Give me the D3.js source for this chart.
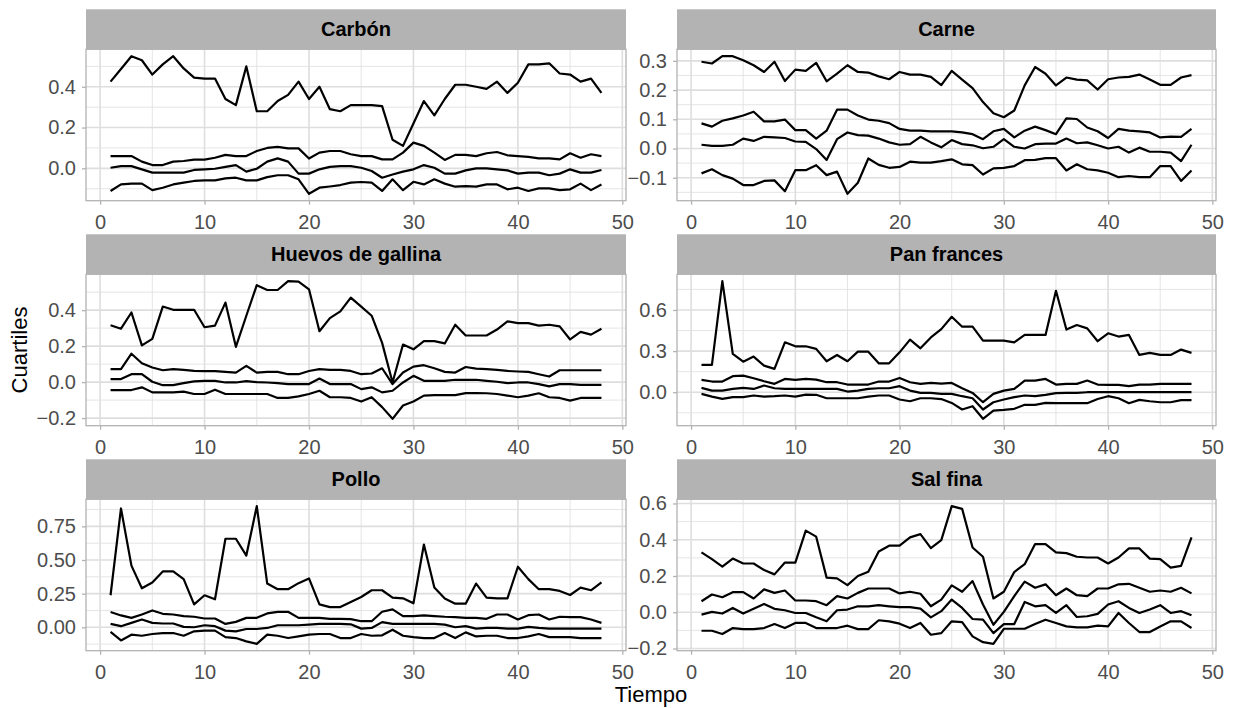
<!DOCTYPE html>
<html>
<head>
<meta charset="utf-8">
<script src="https://cdn.jsdelivr.net/npm/d3@7"></script>
<style>
  body { margin: 0; background: #fff; }
  text { font-family: "Liberation Sans", Arial, sans-serif; }
</style>
</head>
<body>
<div id="chart"></div>
<script>
// Tiempo (x) values
const tiempo = [1,2,3,4,5,6,7,8,9,10,11,12,13,14,15,16,17,18,19,20,21,22,23,24,
                25,26,27,28,29,30,31,32,33,34,35,36,37,38,39,40,41,42,43,44,45,46,47,48];

const productos = ["Carbón", "Carne", "Huevos de gallina", "Pan frances", "Pollo", "Sal fina"];

// Carbón
const carbonQ1 = [-0.111,-0.079,-0.075,-0.075,-0.107,-0.095,-0.079,-0.07,-0.062,-0.059,-0.059,-0.049,-0.046,-0.059,-0.059,-0.043,-0.034,-0.034,-0.054,-0.125,-0.095,-0.089,-0.082,-0.07,
                  -0.067,-0.07,-0.111,-0.054,-0.107,-0.066,-0.079,-0.054,-0.075,-0.09,-0.087,-0.09,-0.079,-0.079,-0.103,-0.095,-0.111,-0.098,-0.098,-0.107,-0.103,-0.075,-0.107,-0.079];
const carbonQ2 = [0.003,0.011,0.011,-0.005,-0.021,-0.021,-0.021,-0.021,-0.008,-0.005,-0.002,0.007,0.016,-0.016,-0.002,0.033,0.049,0.033,-0.026,-0.026,-0.005,0.007,0.011,0.011,
                  0.003,-0.013,-0.046,-0.03,-0.016,-0.005,0.016,0.003,-0.026,-0.026,-0.01,0,0,-0.005,-0.01,-0.026,-0.021,-0.021,-0.034,-0.026,-0.005,-0.021,-0.021,-0.008];
const carbonQ3 = [0.06,0.06,0.06,0.033,0.016,0.016,0.033,0.036,0.043,0.043,0.052,0.066,0.06,0.06,0.085,0.1,0.105,0.098,0.098,0.048,0.077,0.085,0.085,0.069,
                  0.06,0.06,0.044,0.044,0.077,0.126,0.11,0.077,0.041,0.066,0.066,0.06,0.074,0.08,0.064,0.06,0.056,0.049,0.049,0.044,0.074,0.052,0.069,0.06];
const carbonQ4 = [0.425,0.487,0.55,0.53,0.46,0.51,0.55,0.49,0.445,0.44,0.44,0.34,0.31,0.5,0.28,0.28,0.33,0.36,0.425,0.34,0.4,0.29,0.28,0.31,
                  0.31,0.31,0.305,0.14,0.11,0.22,0.33,0.26,0.34,0.41,0.41,0.4,0.39,0.425,0.37,0.42,0.51,0.51,0.515,0.465,0.46,0.425,0.44,0.37];

// Carne
const carneQ1 = [-0.085,-0.071,-0.091,-0.103,-0.125,-0.125,-0.111,-0.109,-0.146,-0.074,-0.074,-0.057,-0.091,-0.079,-0.155,-0.117,-0.034,-0.056,-0.066,-0.063,-0.045,-0.048,-0.048,-0.043,
                 -0.037,-0.054,-0.057,-0.089,-0.068,-0.066,-0.06,-0.04,-0.039,-0.033,-0.033,-0.075,-0.054,-0.071,-0.075,-0.083,-0.098,-0.094,-0.098,-0.098,-0.06,-0.06,-0.111,-0.075];
const carneQ2 = [0.013,0.009,0.009,0.013,0.034,0.026,0.04,0.038,0.036,0.024,0.023,-0.002,-0.039,0.032,0.055,0.046,0.044,0.034,0.021,0.013,0.015,0.04,0.021,0.004,
                 0.029,0.015,0.011,0.001,0.006,0.032,0.006,0,0.015,0.017,0.017,0.034,0.018,0.021,0.011,0,0.006,-0.014,0.003,-0.011,-0.011,-0.014,-0.043,0.013];
const carneQ3 = [0.086,0.075,0.095,0.103,0.113,0.126,0.093,0.093,0.099,0.063,0.063,0.034,0.061,0.133,0.133,0.113,0.099,0.095,0.087,0.067,0.061,0.061,0.059,0.059,
                 0.059,0.055,0.049,0.032,0.059,0.067,0.038,0.061,0.075,0.063,0.049,0.103,0.101,0.072,0.059,0.036,0.067,0.061,0.059,0.055,0.038,0.041,0.04,0.067];
const carneQ4 = [0.297,0.291,0.316,0.316,0.302,0.285,0.262,0.297,0.231,0.27,0.266,0.293,0.23,0.256,0.285,0.262,0.26,0.247,0.237,0.262,0.253,0.253,0.245,0.217,
                 0.266,0.236,0.207,0.159,0.121,0.107,0.13,0.216,0.279,0.256,0.216,0.243,0.236,0.233,0.202,0.237,0.243,0.245,0.253,0.236,0.218,0.218,0.243,0.251];

// Huevos de gallina
const huevosQ1 = [-0.044,-0.044,-0.044,-0.029,-0.057,-0.057,-0.057,-0.053,-0.066,-0.066,-0.042,-0.066,-0.066,-0.066,-0.066,-0.066,-0.088,-0.088,-0.079,-0.066,-0.048,-0.084,-0.084,-0.088,
                  -0.108,-0.084,-0.139,-0.204,-0.13,-0.108,-0.075,-0.072,-0.072,-0.072,-0.061,-0.061,-0.062,-0.066,-0.075,-0.084,-0.075,-0.062,-0.084,-0.088,-0.103,-0.088,-0.088,-0.088];
const huevosQ2 = [0.017,0.017,0.044,0.044,0.002,-0.017,-0.017,-0.006,0.004,0.007,0.007,-0.002,-0.002,0.006,0,-0.002,-0.006,-0.011,-0.011,-0.011,0.02,-0.011,-0.011,-0.011,
                  -0.039,-0.029,-0.057,-0.048,-0.002,0.035,0.007,0.007,0.007,0.013,0.013,0.013,0.007,0.002,-0.006,-0.002,-0.002,-0.011,-0.024,-0.011,-0.011,-0.015,-0.015,-0.015];
const huevosQ3 = [0.072,0.072,0.158,0.105,0.081,0.066,0.072,0.068,0.062,0.061,0.061,0.057,0.053,0.09,0.053,0.057,0.057,0.044,0.044,0.062,0.072,0.068,0.068,0.062,
                  0.044,0.048,0.077,-0.011,0.053,0.086,0.094,0.077,0.057,0.053,0.084,0.075,0.072,0.068,0.062,0.059,0.057,0.044,0.031,0.066,0.066,0.066,0.066,0.066];
const huevosQ4 = [0.316,0.297,0.387,0.204,0.24,0.42,0.402,0.402,0.402,0.305,0.314,0.442,0.196,0.369,0.539,0.512,0.512,0.561,0.558,0.516,0.283,0.356,0.393,0.47,
                  0.42,0.369,0.218,-0.002,0.209,0.182,0.228,0.228,0.215,0.319,0.259,0.259,0.259,0.292,0.338,0.328,0.328,0.314,0.319,0.31,0.237,0.279,0.264,0.297];

// Pan frances
const panQ1 = [-0.012,-0.032,-0.049,-0.036,-0.036,-0.024,-0.032,-0.029,-0.024,-0.032,-0.017,-0.019,-0.044,-0.044,-0.044,-0.044,-0.032,-0.024,-0.024,-0.053,-0.066,-0.044,-0.044,-0.05,
               -0.078,-0.126,-0.102,-0.194,-0.134,-0.129,-0.121,-0.092,-0.092,-0.078,-0.08,-0.08,-0.08,-0.08,-0.049,-0.029,-0.044,-0.08,-0.056,-0.066,-0.073,-0.073,-0.058,-0.058];
const panQ2 = [0.032,0.012,0.012,0.024,0.032,0.024,0.049,0.029,0.024,0.024,0.024,0.024,0.024,0.024,0.005,0.012,0.024,0.029,0.029,0.044,0.012,-0.005,-0.005,-0.012,
               -0.012,-0.029,-0.044,-0.126,-0.073,-0.053,-0.036,-0.024,-0.029,-0.019,-0.007,-0.005,-0.005,0,0,0,0,0,0,0,0,0,0,0];
const panQ3 = [0.09,0.078,0.078,0.117,0.121,0.102,0.08,0.061,0.097,0.09,0.097,0.092,0.073,0.073,0.056,0.056,0.056,0.078,0.078,0.104,0.073,0.061,0.068,0.063,
               0.068,0.029,-0.005,-0.073,-0.012,0.012,0.024,0.085,0.085,0.097,0.056,0.061,0.061,0.085,0.056,0.053,0.053,0.044,0.056,0.056,0.061,0.061,0.061,0.061];
const panQ4 = [0.2,0.2,0.81,0.28,0.223,0.26,0.194,0.17,0.364,0.335,0.335,0.316,0.226,0.272,0.226,0.296,0.296,0.211,0.211,0.291,0.384,0.32,0.4,0.46,
               0.55,0.478,0.478,0.376,0.376,0.376,0.364,0.418,0.418,0.418,0.74,0.457,0.49,0.466,0.372,0.43,0.406,0.418,0.272,0.287,0.272,0.272,0.311,0.287];

// Pollo
const polloQ1 = [-0.035,-0.098,-0.055,-0.063,-0.05,-0.043,-0.043,-0.063,-0.03,-0.025,-0.025,-0.073,-0.08,-0.105,-0.123,-0.055,-0.063,-0.08,-0.068,-0.055,-0.05,-0.05,-0.08,-0.08,
                 -0.05,-0.063,-0.06,-0.018,-0.063,-0.073,-0.08,-0.08,-0.043,-0.08,-0.038,-0.068,-0.063,-0.063,-0.08,-0.08,-0.068,-0.05,-0.073,-0.073,-0.073,-0.08,-0.08,-0.08];
const polloQ2 = [0.025,0.008,0.033,0.058,0.033,0.028,0.028,0.003,0,0.015,0.008,-0.025,-0.03,-0.013,-0.013,-0.005,0.015,0.015,0.015,0.02,0.025,0.025,0.025,0.022,
                 -0.01,-0.005,0.038,0.025,0.025,0.025,0.025,0.025,0.02,0,0.008,-0.01,-0.005,-0.005,-0.01,-0.01,0.003,-0.005,-0.01,-0.01,-0.01,-0.01,-0.01,-0.01];
const polloQ3 = [0.113,0.088,0.07,0.095,0.125,0.1,0.095,0.083,0.078,0.065,0.065,0.025,0.04,0.07,0.07,0.103,0.115,0.115,0.07,0.07,0.07,0.063,0.063,0.06,
                 0.045,0.045,0.115,0.133,0.083,0.083,0.088,0.083,0.078,0.075,0.07,0.07,0.063,0.095,0.095,0.058,0.09,0.095,0.058,0.078,0.075,0.075,0.058,0.033];
const polloQ4 = [0.238,0.883,0.458,0.29,0.333,0.415,0.415,0.358,0.17,0.238,0.208,0.658,0.658,0.533,0.9,0.325,0.283,0.283,0.328,0.363,0.17,0.15,0.15,0.188,
                 0.225,0.275,0.275,0.22,0.215,0.178,0.615,0.295,0.213,0.175,0.175,0.325,0.22,0.215,0.215,0.45,0.358,0.283,0.283,0.27,0.24,0.295,0.275,0.333];

// Sal fina
const salQ1 = [-0.102,-0.102,-0.12,-0.087,-0.093,-0.093,-0.087,-0.065,-0.087,-0.059,-0.059,-0.087,-0.087,-0.087,-0.074,-0.093,-0.093,-0.044,-0.05,-0.063,-0.087,-0.059,-0.124,-0.115,
               -0.05,-0.054,-0.133,-0.165,-0.174,-0.091,-0.091,-0.091,-0.065,-0.041,-0.059,-0.078,-0.083,-0.083,-0.074,-0.078,-0.004,-0.059,-0.109,-0.109,-0.078,-0.05,-0.05,-0.087];
const salQ2 = [-0.013,0.002,-0.007,0.024,-0.007,0.02,0.046,0.019,0.011,-0.004,-0.004,-0.028,-0.05,0.011,0.015,0.033,0.033,0.039,0.033,0.028,0.028,0.02,-0.028,0.006,
               0.07,0.024,-0.037,-0.041,-0.115,-0.065,-0.065,0.057,0.033,0.039,-0.004,0.039,-0.026,-0.022,-0.009,0.043,0.061,0.024,-0.004,0.015,0.039,-0.004,0.006,-0.017];
const salQ3 = [0.061,0.098,0.083,0.111,0.111,0.076,0.126,0.107,0.12,0.065,0.065,0.061,0.039,0.089,0.076,0.107,0.131,0.131,0.131,0.104,0.113,0.102,0.033,0.07,
               0.148,0.113,0.172,0.043,-0.069,0.002,0.089,0.169,0.135,0.154,0.094,0.131,0.094,0.089,0.131,0.131,0.154,0.157,0.135,0.113,0.12,0.113,0.135,0.104];
const salQ4 = [0.33,0.293,0.252,0.296,0.269,0.269,0.233,0.209,0.274,0.274,0.45,0.417,0.191,0.187,0.15,0.2,0.224,0.335,0.367,0.367,0.413,0.431,0.354,0.398,
               0.585,0.57,0.357,0.306,0.076,0.113,0.222,0.265,0.376,0.376,0.33,0.326,0.306,0.302,0.302,0.269,0.302,0.352,0.352,0.296,0.293,0.246,0.256,0.413];

// Tick labels per panel
const yTicks = [[0, 0.2, 0.4], [-0.1, 0, 0.1, 0.2, 0.3], [-0.2, 0, 0.2, 0.4],
                [0, 0.3, 0.6], [0, 0.25, 0.5, 0.75], [-0.2, 0, 0.2, 0.4, 0.6]];
const yFormats = [".1f", ".1f", ".1f", ".1f", ".2f", ".1f"];
const xTicks = [0, 10, 20, 30, 40, 50];

const cuartiles = [
  [carbonQ1, carbonQ2, carbonQ3, carbonQ4],
  [carneQ1, carneQ2, carneQ3, carneQ4],
  [huevosQ1, huevosQ2, huevosQ3, huevosQ4],
  [panQ1, panQ2, panQ3, panQ4],
  [polloQ1, polloQ2, polloQ3, polloQ4],
  [salQ1, salQ2, salQ3, salQ4]
];

// layout
const width = 1233, height = 708;
const colX = [86, 677], panelW = [540, 539];
const rowY = [49.3, 274.3, 499.3], panelH = 151.4, stripH = 40;
const gridCol = "#DEDEDE", borderCol = "#B3B3B3";

const svg = d3.select("#chart")
              .append("svg")
                .attr("width", width)
                .attr("height", height);

// minor breaks halfway between the majors (ggplot style)
function minors(ticks, domain) {
  const s = ticks[1] - ticks[0];
  const ext = [ticks[0] - s, ...ticks, ticks[ticks.length - 1] + s];
  return ext.slice(1).map((v, j) => (v + ext[j]) / 2)
            .filter(v => v >= domain[0] && v <= domain[1]);
}

productos.forEach((name, i) => {
  const col = i % 2, row = Math.floor(i / 2);
  const w = panelW[col], h = panelH;
  const g = svg.append("g")
               .attr("transform", `translate(${colX[col]},${rowY[row]})`);

  const series = cuartiles[i];
  const lo = d3.min(series.flat()), hi = d3.max(series.flat());
  const pad = (hi - lo) * 0.05;
  const y = d3.scaleLinear().domain([lo - pad, hi + pad]).range([h, 0]);
  const xPad = (d3.max(tiempo) - d3.min(tiempo)) * 0.05;
  const x = d3.scaleLinear().domain([d3.min(tiempo) - xPad, d3.max(tiempo) + xPad]).range([0, w]);

  // minor grid
  g.append("g").selectAll("line")
   .data(minors(yTicks[i], y.domain()))
   .join("line")
     .attr("x1", 0).attr("x2", w)
     .attr("y1", d => y(d)).attr("y2", d => y(d))
     .attr("stroke", gridCol).attr("stroke-width", 0.8);
  g.append("g").selectAll("line")
   .data(minors(xTicks, x.domain()))
   .join("line")
     .attr("y1", 0).attr("y2", h)
     .attr("x1", d => x(d)).attr("x2", d => x(d))
     .attr("stroke", gridCol).attr("stroke-width", 0.8);

  // major grid
  g.append("g").selectAll("line")
   .data(yTicks[i])
   .join("line")
     .attr("x1", 0).attr("x2", w)
     .attr("y1", d => y(d)).attr("y2", d => y(d))
     .attr("stroke", gridCol).attr("stroke-width", 1.6);
  g.append("g").selectAll("line")
   .data(xTicks)
   .join("line")
     .attr("y1", 0).attr("y2", h)
     .attr("x1", d => x(d)).attr("x2", d => x(d))
     .attr("stroke", gridCol).attr("stroke-width", 1.6);

  // quartile lines
  const line = d3.line()
                 .x((d, j) => x(tiempo[j]))
                 .y(d => y(d));
  g.append("g").selectAll("path")
   .data(series)
   .join("path")
     .attr("d", line)
     .attr("fill", "none")
     .attr("stroke", "black")
     .attr("stroke-width", 2.2)
     .attr("stroke-linejoin", "round");

  // panel border
  g.append("rect")
     .attr("width", w).attr("height", h)
     .attr("fill", "none")
     .attr("stroke", borderCol)
     .attr("stroke-width", 1.3);

  // axes
  const yAxis = g.append("g")
                 .call(d3.axisLeft(y).tickValues(yTicks[i]).tickFormat(d3.format(yFormats[i]))
                         .tickSize(4).tickPadding(6));
  const xAxis = g.append("g")
                 .attr("transform", `translate(0,${h})`)
                 .call(d3.axisBottom(x).tickValues(xTicks).tickFormat(d3.format("d"))
                         .tickSize(4).tickPadding(10));
  [yAxis, xAxis].forEach(a => {
    a.select(".domain").remove();
    a.selectAll("line").attr("stroke", borderCol).attr("stroke-width", 1.3);
    a.selectAll("text")
       .attr("fill", "#4D4D4D")
       .style("font-size", "20px")
       .style("font-family", "'Liberation Sans', Arial, sans-serif");
  });

  // strip
  g.append("rect")
     .attr("y", -stripH)
     .attr("width", w).attr("height", stripH)
     .attr("fill", "#B3B3B3");
  g.append("text")
     .attr("x", w / 2).attr("y", -stripH / 2)
     .attr("text-anchor", "middle")
     .attr("dominant-baseline", "central")
     .style("font-size", "20px")
     .style("font-weight", "bold")
     .text(name);
});

// axis titles
svg.append("text")
   .attr("x", (colX[0] + colX[1] + panelW[1]) / 2)
   .attr("y", 702)
   .attr("text-anchor", "middle")
   .style("font-size", "22px")
   .text("Tiempo");

svg.append("text")
   .attr("transform", `translate(27,${(rowY[0] + rowY[2] + panelH) / 2}) rotate(-90)`)
   .attr("text-anchor", "middle")
   .style("font-size", "22px")
   .text("Cuartiles");
</script>
</body>
</html>
